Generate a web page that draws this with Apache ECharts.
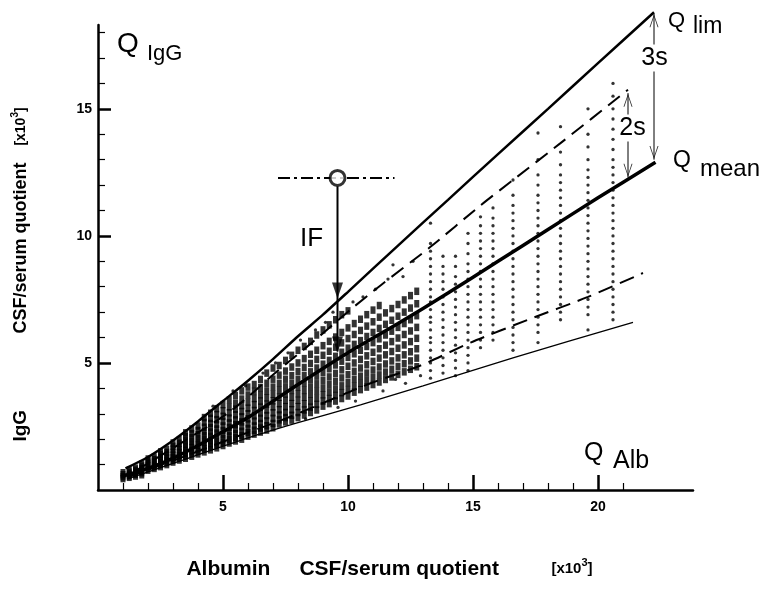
<!DOCTYPE html>
<html><head><meta charset="utf-8">
<script src="https://cdn.jsdelivr.net/npm/echarts@6/dist/echarts.min.js"></script>
<style>html,body{margin:0;padding:0;background:#fff}#c{width:766px;height:590px}</style>
</head><body><div id="c"></div>
<script>
// ---- axis ticks ----
const xMajorTicks = [5, 10, 15, 20];
const xMinorTicks = [1, 2, 3, 4, 6, 7, 8, 9, 11, 12, 13, 14, 16, 17, 18, 19, 21];
const yMajorTicks = [5, 10, 15];
const yMinorTicks = [1, 2, 3, 4, 6, 7, 8, 9, 11, 12, 13, 14, 16, 17, 18];

// ---- reference curves ----
const qLim = [[1.1,0.85],[2,1.3],[3,1.95],[4,2.7],[5,3.5],[6,4.3],[7,5.15],[8,6.05],[9,6.9],[10,7.8],[12,9.62],[14,11.42],[16,13.22],[18,15.0],[20,16.8],[22.24,18.8]];
const qMean = [[1,0.55],[2,0.85],[3,1.25],[4,1.75],[5,2.3],[6,2.85],[8,4.15],[10,5.4],[12,6.55],[14,7.75],[16,9.0],[18,10.25],[20,11.5],[22.3,12.9]];
const upperDash = [[1.5,0.75],[3,1.65],[5.3,3.1],[7.2,4.7],[8.5,5.75],[10.1,7.1],[11.3,8.05],[13.3,9.57],[15.3,11.2],[16.6,12.2],[18.5,13.65],[21.2,15.75]];
const lowerDash = [[1.2,0.5],[3,1.15],[5,1.9],[7.6,2.85],[10.9,4.2],[12.9,4.9],[14.9,5.8],[17.2,6.7],[19.6,7.6],[21.8,8.54]];
const lowerLine = [[1.16,0.43],[3,1.05],[6,2.05],[8,2.65],[10.5,3.35],[13,4.1],[16.6,5.2],[21.4,6.6]];

// ---- dense patient cloud (columns) ----
const cloudX = [1.0,1.25,1.5,1.75,2.0,2.25,2.5,2.75,3.0,3.25,3.5,3.75,4.0,4.25,4.5,4.75,5.0,5.25,5.5,5.75,6.0,6.25,6.5,6.75,7.0,7.25,7.5,7.75,8.0,8.25,8.5,8.75,9.0,9.25,9.5,9.75,10.0,10.25,10.5,10.75,11.0,11.25,11.5,11.75,12.0,12.25,12.5,12.75];
const cloudY = [
 [0.45,0.52,0.6,0.68],
 [0.5,0.56,0.62,0.7,0.78],
 [0.55,0.62,0.7,0.78,0.86],
 [0.6,0.68,0.76,0.84,0.94,1.02],
 [0.78,0.86,0.95,1.05,1.15,1.22],
 [0.85,0.92,1.0,1.1,1.2,1.3],
 [0.92,1.0,1.08,1.18,1.28,1.4,1.5],
 [1.0,1.08,1.16,1.26,1.36,1.48,1.6],
 [1.1,1.18,1.27,1.37,1.48,1.6,1.72,1.85],
 [1.18,1.27,1.36,1.47,1.58,1.7,1.84,1.98],
 [1.25,1.35,1.45,1.56,1.68,1.8,1.95,2.1,2.25],
 [1.33,1.43,1.54,1.66,1.78,1.92,2.07,2.22,2.4],
 [1.42,1.52,1.63,1.76,1.89,2.03,2.18,2.34,2.52],
 [1.5,1.62,1.74,1.87,2.0,2.15,2.3,2.47,2.66,2.85],
 [1.58,1.7,1.83,1.97,2.12,2.28,2.45,2.62,2.82,3.02],
 [1.66,1.79,1.93,2.08,2.24,2.4,2.58,2.77,2.97,3.2],
 [1.75,1.88,2.02,2.18,2.34,2.52,2.7,2.9,3.12,3.36],
 [1.85,1.98,2.13,2.29,2.46,2.64,2.83,3.04,3.27,3.55],
 [1.93,2.07,2.22,2.39,2.57,2.76,2.96,3.18,3.42,3.72],
 [2.0,2.15,2.31,2.49,2.68,2.88,3.09,3.32,3.58,3.9],
 [2.12,2.26,2.42,2.6,2.8,3.0,3.22,3.46,3.74,4.05],
 [2.2,2.35,2.52,2.71,2.92,3.13,3.36,3.6,3.88,4.15],
 [2.28,2.44,2.62,2.82,3.03,3.26,3.5,3.75,4.03,4.35],
 [2.36,2.53,2.72,2.93,3.15,3.38,3.63,3.9,4.2,4.6],
 [2.45,2.62,2.82,3.04,3.27,3.51,3.77,4.05,4.36,4.8],
 [2.6,2.76,2.95,3.16,3.4,3.65,3.92,4.2,4.52,4.9],
 [2.68,2.85,3.05,3.28,3.53,3.78,4.06,4.36,4.68,5.1],
 [2.75,2.94,3.16,3.4,3.65,3.92,4.2,4.5,4.84,5.3],
 [2.85,3.05,3.28,3.53,3.79,4.06,4.35,4.66,5.0,5.5],
 [2.95,3.15,3.39,3.65,3.92,4.2,4.5,4.82,5.17,5.65],
 [3.05,3.26,3.5,3.77,4.05,4.34,4.65,4.98,5.34,5.85],
 [3.15,3.37,3.62,3.9,4.18,4.48,4.8,5.14,5.5,6.1],
 [3.3,3.5,3.75,4.02,4.32,4.63,4.95,5.3,5.68,6.3],
 [3.4,3.6,3.86,4.15,4.45,4.77,5.1,5.46,5.85,6.5],
 [3.5,3.72,3.98,4.28,4.59,4.92,5.26,5.62,6.02,6.7],
 [3.6,3.83,4.1,4.41,4.73,5.07,5.42,5.79,6.2,6.9],
 [3.7,3.95,4.23,4.54,4.87,5.22,5.58,5.96,6.38,7.05],
 [3.85,4.08,4.36,4.67,5.0,5.36,5.73,6.12,6.55],
 [3.95,4.2,4.48,4.8,5.14,5.5,5.88,6.28,6.72],
 [4.05,4.31,4.6,4.93,5.28,5.65,6.04,6.45,6.9],
 [4.15,4.42,4.72,5.06,5.42,5.8,6.2,6.62,7.08],
 [4.25,4.53,4.84,5.19,5.56,5.95,6.36,6.8,7.26],
 [4.35,4.64,4.96,5.32,5.7,6.1,6.52,6.97],
 [4.45,4.75,5.08,5.45,5.84,6.25,6.68,7.14],
 [4.55,4.86,5.2,5.58,5.98,6.4,6.84,7.3],
 [4.65,4.97,5.32,5.71,6.12,6.55,7.0,7.48],
 [4.75,5.08,5.44,5.84,6.26,6.7,7.16,7.65],
 [4.85,5.19,5.56,5.97,6.4,6.86,7.33,7.82]
];
// sparse single dots
const sparseDots = [[4.6,3.3],[5.4,3.9],[5.9,4.1],[6.6,4.6],[7.1,5.0],[7.6,5.4],[8.1,5.9],[8.7,6.3],[9.1,6.6],[9.4,7.0],[10.2,7.4],[10.6,7.6],[11.1,7.9],[11.6,8.3],[11.8,8.86],[12.2,8.4],[12.6,9.0],[13.3,10.5],[10.3,3.5],[11.4,3.9],[12.3,4.2],[9.6,3.25],[8.3,2.8],[12.9,4.5],[11.9,4.35]];
// right-hand columns of dots
const colX = [13.3, 13.8, 14.3, 14.8, 15.3, 15.8, 16.6, 17.6, 18.5, 19.6, 20.6];
const colY = [
 [4.4,4.7,5.0,5.2,5.5,5.8,6.0,6.3,6.6,6.8,7.1,7.4,7.6,7.9,8.2,8.5,8.8,9.1,9.4,9.7],
 [4.6,4.9,5.2,5.5,5.8,6.1,6.4,6.7,7.0,7.3,7.6,7.9,8.2,8.5,8.8,9.2],
 [4.5,4.8,5.1,5.4,5.7,6.0,6.3,6.6,6.9,7.2,7.5,7.8,8.1,8.4,8.8,9.2],
 [4.7,5.0,5.3,5.6,5.9,6.2,6.5,6.8,7.1,7.4,7.7,8.0,8.3,8.6,8.9,9.3,9.7,10.1],
 [5.6,5.9,6.2,6.5,6.8,7.1,7.4,7.7,8.0,8.3,8.6,8.9,9.2,9.5,9.8,10.1,10.4,10.75],
 [5.9,6.2,6.5,6.8,7.1,7.4,7.7,8.0,8.3,8.6,8.9,9.2,9.5,9.8,10.1,10.4,10.7,11.1],
 [5.5,5.8,6.1,6.4,6.7,7.0,7.3,7.6,7.9,8.2,8.5,8.8,9.1,9.4,9.7,10.0,10.3,10.6,10.9,11.2,11.6,12.2],
 [5.8,6.2,6.5,6.8,7.1,7.4,7.7,8.0,8.3,8.6,8.9,9.2,9.5,9.8,10.1,10.4,10.7,11.0,11.3,11.6,12.0,12.4,13.0,14.05],
 [6.7,7.0,7.3,7.6,7.9,8.2,8.5,8.8,9.1,9.4,9.7,10.0,10.3,10.6,10.9,11.2,11.5,11.8,12.1,12.4,12.8,13.3,14.3],
 [6.3,6.9,7.2,7.5,7.8,8.1,8.4,8.7,9.0,9.3,9.6,9.9,10.2,10.5,10.8,11.1,11.4,11.7,12.0,12.3,12.6,13.0,13.5,14.0,15.0],
 [6.7,7.0,7.3,7.6,7.9,8.2,8.5,8.8,9.1,9.4,9.7,10.0,10.3,10.6,10.9,11.2,11.5,11.8,12.1,12.4,12.7,13.0,13.4,13.8,14.2,14.6,15.0,15.5,16.0]
];

// ---- annotations (data units) ----
const ifPoint = [9.58, 12.28];
const ifDashLine = [[7.2, 12.28], [11.86, 12.28]];
const ifArrow = [[9.58, 11.95], [9.58, 5.45]];
const ifHeads = [[9.58, 7.85], [9.58, 5.73]];
const s3Arrow = [[22.24, 18.75], [22.24, 13.0]];
const s3Heads = [[22.24, 18.47, 'up'], [22.24, 13.28, 'down']];
const s2Arrow = [[21.2, 15.62], [21.2, 12.3]];
const s2Heads = [[21.2, 15.34, 'up'], [21.2, 12.58, 'down']];

// ---- build ----
const cloudPts = [];
cloudX.forEach((x, i) => cloudY[i].forEach(y => cloudPts.push([x, y])));
const colPts = sparseDots.slice();
colX.forEach((x, i) => colY[i].forEach(y => colPts.push([x, y])));

const FONT = '"Liberation Sans", Arial, Helvetica, sans-serif';
const headDown = 'path://M0,0 L10,0 L5,16 Z';
const chevUp = 'path://M5,0 L10,13 L9,13 L5,2.2 L1,13 L0,13 Z';
const chevDown = 'path://M0,0 L1,0 L5,10.8 L9,0 L10,0 L5,13 Z';

const lineS = (data, width, type, extra) => Object.assign({
  type: 'line', data, showSymbol: false, symbol: 'none', smooth: 0.25,
  lineStyle: { color: '#000', width, type }, z: 5, silent: true, animation: false
}, extra || {});

const rt = (size, extra) => Object.assign({ fontSize: size, fontWeight: 'bold', fontFamily: FONT, color: '#000', align: 'left' }, extra || {});

const chart = echarts.init(document.getElementById('c'), null, { renderer: 'canvas' });
chart.setOption({
  animation: false,
  backgroundColor: '#fff',
  grid: { left: 98, right: 73, top: 25, bottom: 100 },
  xAxis: [{
    type: 'value', min: 0, max: 23.8, position: 'bottom',
    axisLine: { show: true, onZero: false, lineStyle: { color: '#000', width: 2.5 } },
    axisTick: { show: true, inside: true, length: 15, customValues: xMajorTicks, lineStyle: { color: '#000', width: 2.5 } },
    axisLabel: { customValues: xMajorTicks, margin: 10, color: '#000', fontSize: 14, fontWeight: 'bold', fontFamily: FONT },
    splitLine: { show: false },
    name: '{a|Albumin}{b|CSF/serum quotient}{c|[x10}{d|3}{c|]}',
    nameLocation: 'middle', nameGap: 67,
    nameTextStyle: {
      color: '#000', padding: [0, 12, 0, 0],
      rich: {
        a: rt(21, { width: 113 }),
        b: rt(21, { width: 252 }),
        c: rt(15, { lineHeight: 24 }),
        d: rt(11, { verticalAlign: 'top', lineHeight: 12 })
      }
    }
  }, {
    type: 'value', min: 0, max: 23.8, position: 'bottom', gridIndex: 0,
    axisLine: { show: false },
    axisTick: { show: true, inside: true, length: 7, customValues: xMinorTicks, lineStyle: { color: '#000', width: 1.2 } },
    axisLabel: { show: false }, splitLine: { show: false }
  }],
  yAxis: [{
    type: 'value', min: 0, max: 18.3, position: 'left',
    axisLine: { show: true, onZero: false, lineStyle: { color: '#000', width: 2.5 } },
    axisTick: { show: true, inside: true, length: 13, customValues: yMajorTicks, lineStyle: { color: '#000', width: 2.5 } },
    axisLabel: { customValues: yMajorTicks, margin: 6, color: '#000', fontSize: 14, fontWeight: 'bold', fontFamily: FONT },
    splitLine: { show: false },
    name: '{a|IgG}{b|CSF/serum quotient}{c|[x10}{d|3}{c|]}',
    nameLocation: 'middle', nameRotate: 90, nameGap: 66,
    nameTextStyle: {
      color: '#000', padding: [0, 34, 0, 0],
      rich: {
        a: rt(19, { width: 108 }),
        b: rt(18, { width: 188 }),
        c: rt(14, { lineHeight: 22 }),
        d: rt(10, { verticalAlign: 'top', lineHeight: 11 })
      }
    }
  }, {
    type: 'value', min: 0, max: 18.3, position: 'left', gridIndex: 0,
    axisLine: { show: false },
    axisTick: { show: true, inside: true, length: 7, customValues: yMinorTicks, lineStyle: { color: '#000', width: 1.2 } },
    axisLabel: { show: false }, splitLine: { show: false }
  }],
  series: [
    { type: 'scatter', data: cloudPts, symbol: 'rect', symbolSize: [5, 7.5], itemStyle: { color: '#000' }, z: 2, silent: true },
    { type: 'scatter', data: colPts, symbol: 'circle', symbolSize: 3.3, itemStyle: { color: '#000' }, z: 2, silent: true },
    lineS(lowerLine, 1.3, 'solid'),
    lineS(lowerDash, 2, [15, 8]),
    lineS(upperDash, 2, [15, 8]),
    lineS(qMean, 3.5, 'solid'),
    lineS(qLim, 2.5, 'solid', { clip: false }),
    lineS(ifDashLine, 2, [12, 4, 3, 4], { smooth: false }),
    lineS(ifArrow, 2, 'solid', { smooth: false }),
    { type: 'scatter', data: ifHeads, symbol: headDown, symbolSize: [11, 16], itemStyle: { color: '#000' }, z: 6, silent: true },
    { type: 'scatter', data: [ifPoint], symbol: 'circle', symbolSize: 15, itemStyle: { color: '#fff', borderColor: '#000', borderWidth: 3 }, z: 7, silent: true },
    lineS(s3Arrow, 1, 'solid', { smooth: false, clip: false }),
    lineS(s2Arrow, 1, 'solid', { smooth: false, clip: false }),
    { type: 'scatter', data: s3Heads.concat(s2Heads), clip: false,
      symbol: (v) => v[2] === 'up' ? chevUp : chevDown, symbolSize: [9, 13], itemStyle: { color: '#000' }, z: 6, silent: true }
  ],
  graphic: [
    { type: 'text', x: 117, y: 44, z: 100, style: { text: 'Q', font: '28px ' + FONT, fill: '#000', textVerticalAlign: 'middle' } },
    { type: 'text', x: 147, y: 53.5, z: 100, style: { text: 'IgG', font: '22px ' + FONT, fill: '#000', textVerticalAlign: 'middle' } },
    { type: 'text', x: 668, y: 21, z: 100, style: { text: 'Q', font: '22px ' + FONT, fill: '#000', textVerticalAlign: 'middle' } },
    { type: 'text', x: 693, y: 27, z: 100, style: { text: 'lim', font: '23px ' + FONT, fill: '#000', textVerticalAlign: 'middle' } },
    { type: 'text', x: 673, y: 161, z: 100, style: { text: 'Q', font: '23px ' + FONT, fill: '#000', textVerticalAlign: 'middle' } },
    { type: 'text', x: 700, y: 169.5, z: 100, style: { text: 'mean', font: '24px ' + FONT, fill: '#000', textVerticalAlign: 'middle' } },
    { type: 'text', x: 584, y: 453, z: 100, style: { text: 'Q', font: '25px ' + FONT, fill: '#000', textVerticalAlign: 'middle' } },
    { type: 'text', x: 613, y: 461, z: 100, style: { text: 'Alb', font: '25px ' + FONT, fill: '#000', textVerticalAlign: 'middle' } },
    { type: 'text', x: 300, y: 238.5, z: 100, style: { text: 'IF', font: '26px ' + FONT, fill: '#000', textVerticalAlign: 'middle' } },
    { type: 'text', x: 654.5, y: 58, z: 100, style: { text: '3s', font: '25px ' + FONT, fill: '#000', textAlign: 'center', textVerticalAlign: 'middle', backgroundColor: '#fff', padding: [1, 0, 1, 0] } },
    { type: 'text', x: 632.5, y: 128, z: 100, style: { text: '2s', font: '25px ' + FONT, fill: '#000', textAlign: 'center', textVerticalAlign: 'middle', backgroundColor: '#fff', padding: [1, 0, 1, 0] } }
  ]
});
</script></body></html>
